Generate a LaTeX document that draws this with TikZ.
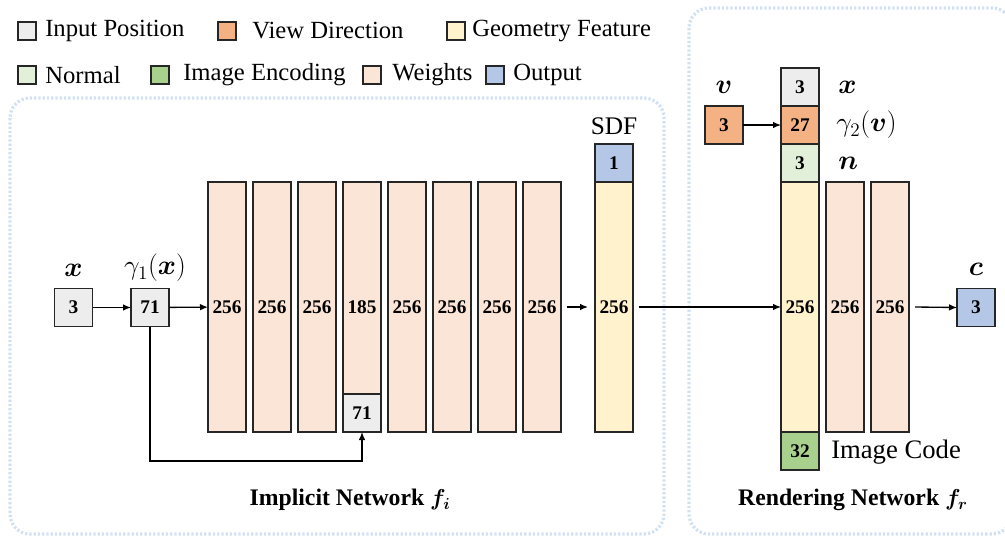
\documentclass[tikz,border=0pt]{standalone}
\usepackage{fontspec}
\setmainfont{Liberation Serif}
\usepackage{amsmath}
\usepackage{bm}
\usetikzlibrary{arrows.meta,positioning}

\definecolor{inpcol}{HTML}{EDEDED}
\definecolor{viewcol}{HTML}{F4B183}
\definecolor{geocol}{HTML}{FFF2CC}
\definecolor{nrmcol}{HTML}{E2F0D9}
\definecolor{enccol}{HTML}{A9D18E}
\definecolor{wgtcol}{HTML}{FBE5D6}
\definecolor{outcol}{HTML}{B4C7E7}
\definecolor{framecol}{HTML}{D2E0F1}

\tikzset{
    blk/.style={draw=black!85, line width=1.1pt, inner sep=0pt, outer sep=0pt,
        font=\fontsize{14.5}{14.5}\selectfont\bfseries},
    sq/.style={blk, minimum width=28.5pt, minimum height=28.5pt},
    layer/.style={blk, fill=wgtcol, minimum width=28.5pt, minimum height=187.5pt},
    lgbox/.style={draw=black!85, line width=0.9pt, minimum width=13.5pt, minimum height=13.5pt, inner sep=0pt},
    lgtext/.style={font=\fontsize{18.5}{18.5}\selectfont, inner sep=0pt, anchor=west},
    mlab/.style={font=\fontsize{20}{20}\selectfont, inner sep=0pt},
    conn/.style={line width=1pt, -{Latex[length=6pt,width=5pt]}},
    frame/.style={draw=framecol, line width=2.4pt, dash pattern=on 1.7pt off 1.5pt, rounded corners=15pt}
}

\begin{document}
\begin{tikzpicture}[x=0.75pt, y=-0.75pt]
    \useasboundingbox (0,0) rectangle (1005,539);
    \clip (0,0) rectangle (1005,539);

    % legend
    \node[lgbox, fill=inpcol] (lg1) at (27,31) {};
    \node[lgtext] at (45,31) {Input Position};
    \node[lgbox, fill=viewcol] (lg2) at (227,31) {};
    \node[lgtext] at (252,31) {View Direction};
    \node[lgbox, fill=geocol] (lg3) at (456,31) {};
    \node[lgtext] at (472,31) {Geometry Feature};
    \node[lgbox, fill=nrmcol] (lg4) at (27,75) {};
    \node[lgtext] at (45,75) {Normal};
    \node[lgbox, fill=enccol] (lg5) at (160,75) {};
    \node[lgtext] at (183,75) {Image Encoding};
    \node[lgbox, fill=wgtcol] (lg6) at (372,75) {};
    \node[lgtext] at (392,75) {Weights};
    \node[lgbox, fill=outcol] (lg7) at (495,75) {};
    \node[lgtext] at (513,75) {Output};

    % dotted frames
    \draw[frame] (10,98) rectangle (664,534);
    \draw[frame] (689,8) rectangle (1012,534);

    % implicit network
    \node[sq, fill=inpcol] (xin) at (73.5,307.5) {3};
    \node[sq, fill=inpcol] (gam1) at (150,307.5) {71};
    \node[mlab] at (73.5,270) {$\bm{x}$};
    \node[mlab] at (155,268) {$\gamma_1(\bm{x})$};

    \node[layer, anchor=north] (h1) at (227,182) {256};
    \node[layer, anchor=north] (h2) at (272,182) {256};
    \node[layer, anchor=north] (h3) at (317,182) {256};
    \node[blk, fill=wgtcol, anchor=north, minimum width=28.5pt, minimum height=159pt] (h4) at (362,182) {};
    \node[blk, draw=none] at (362,307.5) {185};
    \node[sq, fill=inpcol, anchor=north] (skip) at (h4.south) {71};
    \node[layer, anchor=north] (h5) at (407,182) {256};
    \node[layer, anchor=north] (h6) at (452,182) {256};
    \node[layer, anchor=north] (h7) at (497,182) {256};
    \node[layer, anchor=north] (h8) at (542,182) {256};

    \node[layer, fill=geocol, anchor=north] (feat) at (614,182) {256};
    \node[sq, fill=outcol, anchor=south] (sdf) at (feat.north) {1};
    \node[mlab, font=\fontsize{19}{19}\selectfont] at (614,126) {SDF};

    \draw[conn] (xin) -- (gam1);
    \draw[conn] (gam1) -- (h1);
    \draw[conn] (h8.east) ++(6,0) -- ++(21,0);
    \draw[conn] (gam1.south) |- (150,461) -| (skip.south);

    \node[font=\fontsize{17.8}{17.8}\selectfont\bfseries] (fi) at (350,500) {Implicit Network $\bm{f_i}$};

    % rendering network
    \node[layer, fill=geocol, anchor=north] (cat) at (800,182) {256};
    \node[sq, fill=nrmcol, anchor=south] (nrm) at (cat.north) {3};
    \node[sq, fill=viewcol, anchor=south] (gam2) at (nrm.north) {27};
    \node[sq, fill=inpcol, anchor=south] (pos) at (gam2.north) {3};
    \node[sq, fill=enccol, anchor=north] (code) at (cat.south) {32};
    \node[sq, fill=viewcol] (vin) at (724,125) {3};
    \node[mlab] at (724,87) {$\bm{v}$};
    \node[mlab, anchor=west] at (838,87) {$\bm{x}$};
    \node[mlab, anchor=west] at (836,125) {$\gamma_2(\bm{v})$};
    \node[mlab, anchor=west] at (838,163) {$\bm{n}$};
    \node[mlab, anchor=west] at (831,452) {Image Code};

    \node[layer, anchor=north] (r1) at (845,182) {256};
    \node[layer, anchor=north] (r2) at (890,182) {256};
    \node[sq, fill=outcol] (cout) at (976,307.5) {3};
    \node[mlab] at (976,269) {$\bm{c}$};

    \draw[conn] (vin) -- (gam2);
    \draw[conn] (feat.east) ++(6,0) -- (cat.west);
    \draw[conn] (r2.east) ++(6,0) -- (cout.west);

    \node[font=\fontsize{17.8}{17.8}\selectfont\bfseries] (fr) at (853,500) {Rendering Network $\bm{f_r}$};
\end{tikzpicture}
\end{document}
